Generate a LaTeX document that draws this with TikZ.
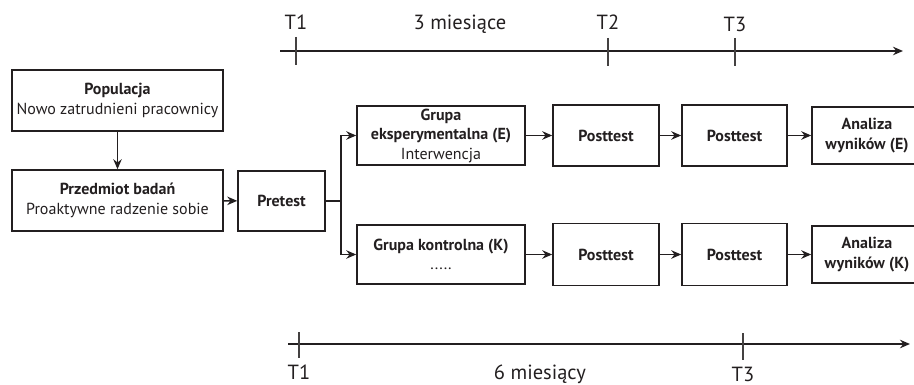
\documentclass[tikz,border=0pt]{standalone}
\usepackage{fontspec}
\setmainfont{PT Sans}
\usetikzlibrary{arrows.meta}
\definecolor{ink}{HTML}{231F20}
\begin{document}
\begin{tikzpicture}[x=1pt,y=-1pt,
  box/.style={draw=ink, line width=1.5pt, rectangle, inner sep=0pt, align=center, text=ink, font=\fontsize{16}{19.5}\selectfont},
  arr/.style={draw=ink, line width=1.4pt, -{Stealth[length=10pt,width=8.5pt]}},
  tickline/.style={draw=ink!85, line width=1.1pt},
  lab/.style={text=ink, font=\fontsize{20.5}{24}\selectfont, inner sep=0pt, anchor=base}]
\useasboundingbox (0,0) rectangle (914,385);
\clip (0,0) rectangle (914,385);

% boxes
\node[box, minimum width=211pt, minimum height=61pt] (pop) at (117.5,100.5) {\textbf{Populacja}\\Nowo zatrudnieni pracownicy};
\node[box, minimum width=211pt, minimum height=61pt] (przed) at (117.5,200.5) {\textbf{Przedmiot badań}\\Proaktywne radzenie sobie};
\node[box, minimum width=87pt, minimum height=60pt] (pre) at (281.5,201) {\textbf{Pretest}};
\node[box, minimum width=168pt, minimum height=59pt] (gE) at (441,135.5) {\textbf{Grupa}\\\textbf{eksperymentalna (E)}\\Interwencja};
\node[box, minimum width=168pt, minimum height=59pt] (gK) at (441,254.5) {\textbf{Grupa kontrolna (K)}\\.....};
\node[box, minimum width=106pt, minimum height=61pt] (p1E) at (606,135.5) {\textbf{Posttest}};
\node[box, minimum width=105pt, minimum height=61pt] (p2E) at (734.5,135.5) {\textbf{Posttest}};
\node[box, minimum width=110pt, minimum height=57pt] (aE) at (867,135.5) {\textbf{Analiza}\\\textbf{wyników (E)}};
\node[box, minimum width=106pt, minimum height=62pt] (p1K) at (606,254.5) {\textbf{Posttest}};
\node[box, minimum width=105pt, minimum height=62pt] (p2K) at (734.5,254.5) {\textbf{Posttest}};
\node[box, minimum width=110pt, minimum height=57pt] (aK) at (867,254.5) {\textbf{Analiza}\\\textbf{wyników (K)}};

% connectors
\coordinate (br) at (341,201);
\draw[arr] (pop) -- (przed);
\draw[arr] (przed) -- (pre);
\draw[arr] (pre.east) -- (br) |- (gE.west);
\draw[arr] (br) |- (gK.west);
\draw[arr] (gE) -- (p1E);
\draw[arr] (p1E) -- (p2E);
\draw[arr] (p2E) -- (aE);
\draw[arr] (gK) -- (p1K);
\draw[arr] (p1K) -- (p2K);
\draw[arr] (p2K) -- (aK);

% top timeline
\coordinate (ta) at (280,51);
\coordinate (tb) at (903,51);
\draw[arr] (ta) -- (tb);
\coordinate (ta1) at (296,37); \coordinate (tb1) at (296,65);
\coordinate (ta2) at (608,38); \coordinate (tb2) at (608,66);
\coordinate (ta3) at (735,38); \coordinate (tb3) at (735,66);
\draw[tickline] (ta1) -- (tb1);
\draw[tickline] (ta2) -- (tb2);
\draw[tickline] (ta3) -- (tb3);
\node[lab] (lT1a) at (296,30) {T1};
\node[lab] (l3m) at (460,30) {3 miesiące};
\node[lab] (lT2a) at (608,30) {T2};
\node[lab] (lT3a) at (735,32) {T3};

% bottom timeline
\coordinate (ba) at (288,344);
\coordinate (bb) at (910,344);
\draw[arr] (ba) -- (bb);
\coordinate (ba1) at (299,332); \coordinate (bb1) at (299,358);
\coordinate (ba3) at (743,333); \coordinate (bb3) at (743,360);
\draw[tickline] (ba1) -- (bb1);
\draw[tickline] (ba3) -- (bb3);
\node[lab] (lT1b) at (299,379) {T1};
\node[lab] (l6m) at (540,379) {6 miesiący};
\node[lab] (lT3b) at (743,381) {T3};
\end{tikzpicture}
\end{document}
